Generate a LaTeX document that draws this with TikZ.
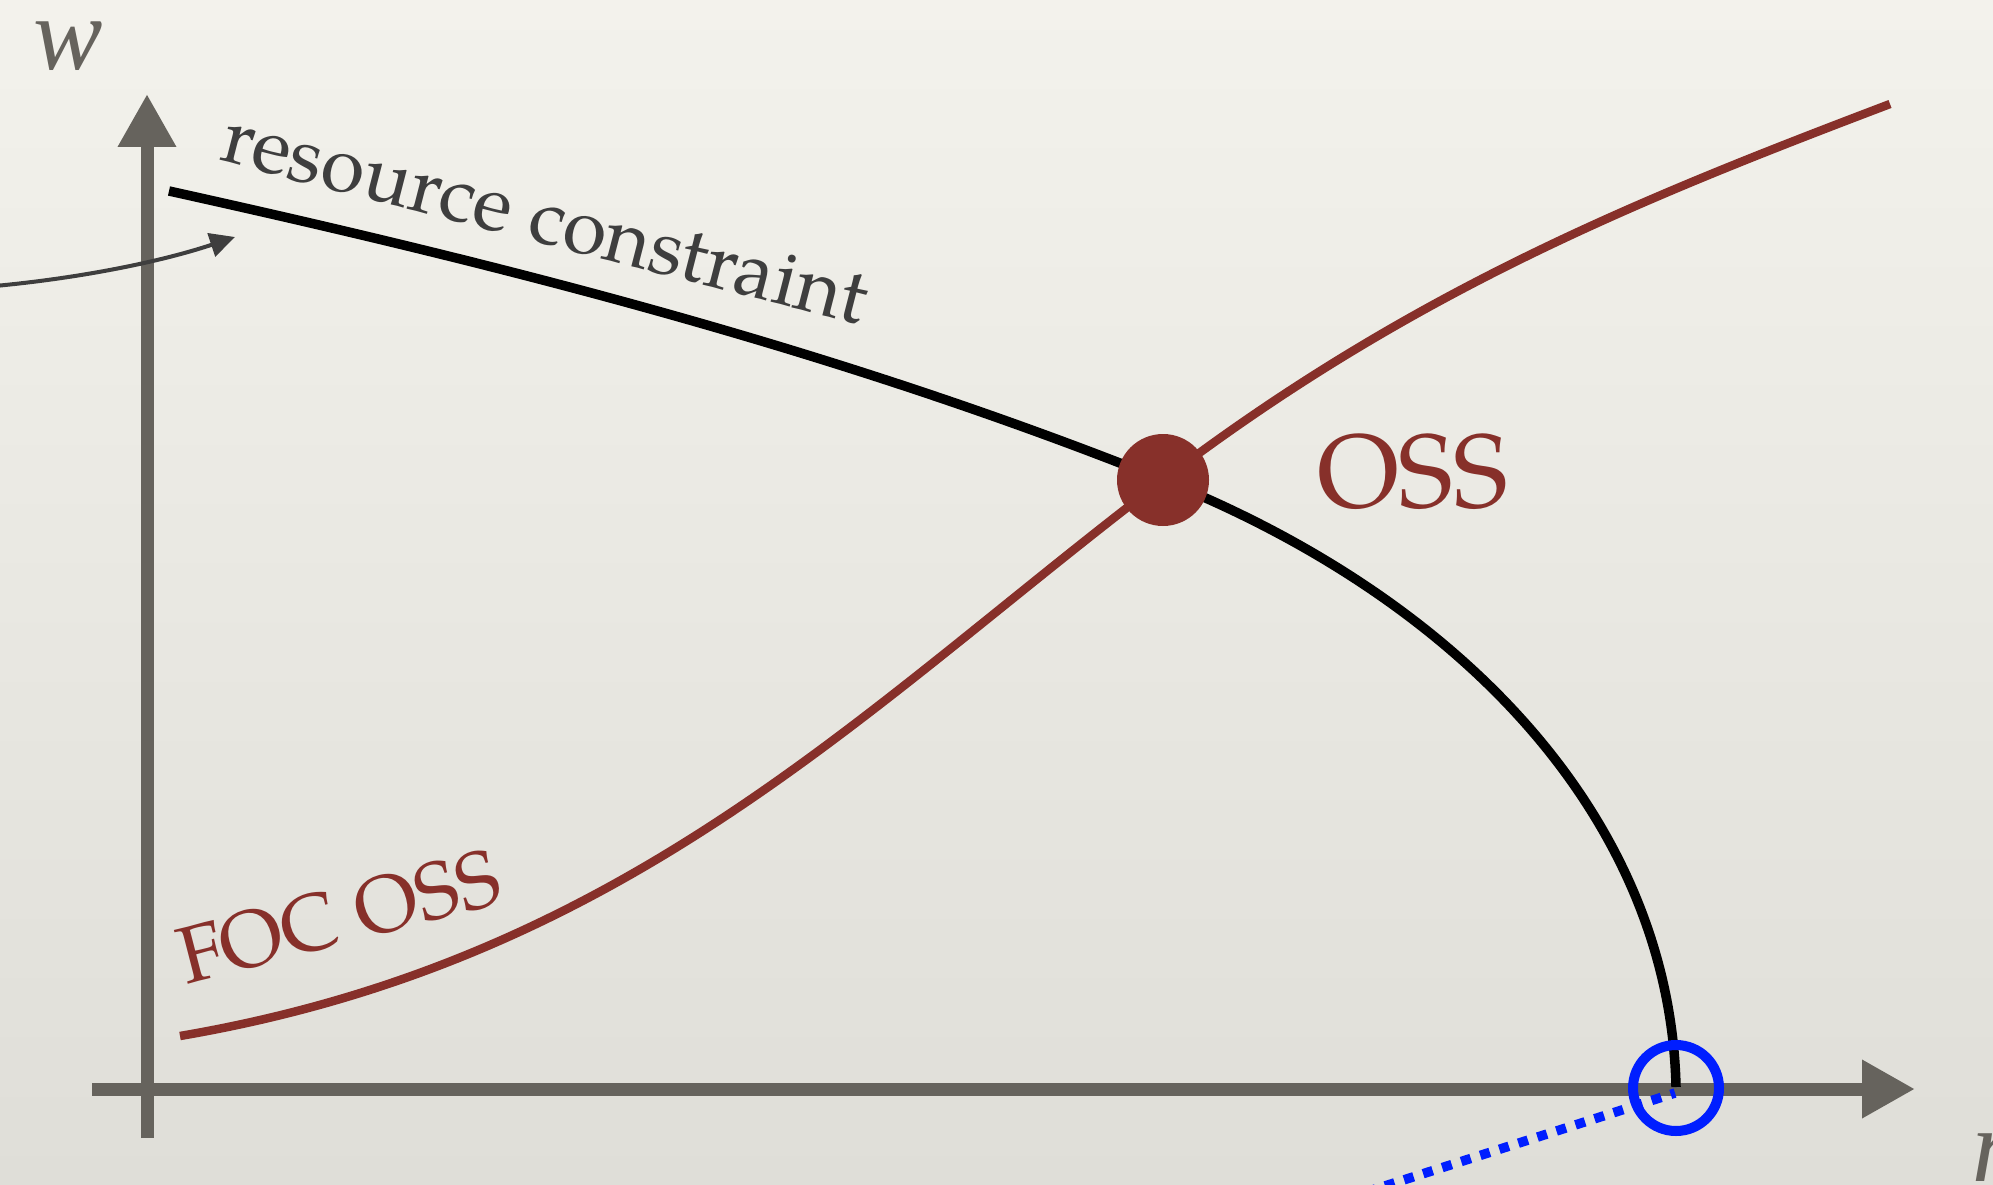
\documentclass[tikz,border=0pt]{standalone}
\usepackage{fontspec}
\setmainfont{TeX Gyre Pagella}
\newfontfamily\axisfont{Liberation Serif}
\usetikzlibrary{arrows.meta}
\definecolor{axisgray}{RGB}{102,99,93}
\definecolor{ossred}{RGB}{135,48,42}
\definecolor{labelgray}{RGB}{62,62,62}
\definecolor{pointblue}{RGB}{0,30,255}
\definecolor{papertop}{RGB}{243,242,236}
\definecolor{paperbottom}{RGB}{223,222,216}
\begin{document}
\begin{tikzpicture}[x=1pt,y=-1pt,
  axisline/.style={draw=axisgray,line width=13pt,-{Triangle[length=53pt,width=55pt]}},
  rcline/.style={draw=black,line width=9.5pt},
  focline/.style={draw=ossred,line width=8.5pt},
  pointer/.style={draw=labelgray,line width=4pt,-{Triangle[length=25pt,width=24pt]}},
  bluedots/.style={draw=pointblue,line width=9.5pt,dash pattern=on 10pt off 10pt},
  txt/.style={anchor=base west,inner sep=0pt,outer sep=0pt},
]
\useasboundingbox (0,0) rectangle (1993,1185);
\clip (0,0) rectangle (1993,1185);
\shade[top color=papertop,bottom color=paperbottom] (0,0) rectangle (1993,1185);

% coordinates
\coordinate (ybot) at (147,1138);
\coordinate (ytop) at (147,94);
\coordinate (xleft) at (92,1089);
\coordinate (xright) at (1915,1089);
\coordinate (ossc) at (1163,480);
\coordinate (rcstart) at (169,191);
\coordinate (rcend) at (1676,1087);
\coordinate (focstart) at (180,1036);
\coordinate (focend) at (1890,104);
\coordinate (ptrstart) at (-5,286);
\coordinate (ptrtip) at (235,237);
\coordinate (dotstart) at (1366,1192);
\coordinate (zeroc) at (1676,1088);
\coordinate (dotend) at (1675,1093);

% axes
\draw[axisline] (ybot) -- (ytop);
\draw[axisline] (xleft) -- (xright);

% FOC OSS curve
\draw[focline] (focstart) .. controls (630,959) and (863,708) .. (ossc)
  .. controls (1413,290) and (1640,199) .. (focend);

% resource constraint
\draw[rcline] (rcstart) .. controls (499,264) and (833,348) .. (ossc)
  .. controls (1463,600) and (1670,820) .. (rcend);

% pointer arrow
\draw[pointer] (ptrstart) .. controls (80,278) and (160,262) .. (ptrtip);

% OSS dot
\node[circle,fill=ossred,minimum size=92pt,inner sep=0pt] (oss) at (ossc) {};

% blue dotted line and circle
\draw[bluedots] (dotstart) -- (dotend);
\node[circle,draw=pointblue,line width=10pt,minimum size=86pt,inner sep=0pt] (zero) at (zeroc) {};

% labels
\node[txt,rotate=-14.4,text=labelgray,font=\fontsize{79pt}{90pt}\selectfont] (rclabel) at (218,160) {resource constraint};
\node[txt,rotate=14.5,text=ossred,font=\fontsize{80pt}{90pt}\selectfont] (foclabel) at (186,984) {FOC OSS};
\node[txt,text=ossred,font=\fontsize{104pt}{120pt}\selectfont] (osslabel) at (1317,507) {OSS};
\node[txt,text=axisgray,font=\axisfont\fontsize{104pt}{110pt}\selectfont\itshape] (wlabel) at (33,70) {w};
\node[txt,text=axisgray,font=\axisfont\fontsize{104pt}{110pt}\selectfont\itshape] (nlabel) at (1972,1181) {n};
\end{tikzpicture}
\end{document}
